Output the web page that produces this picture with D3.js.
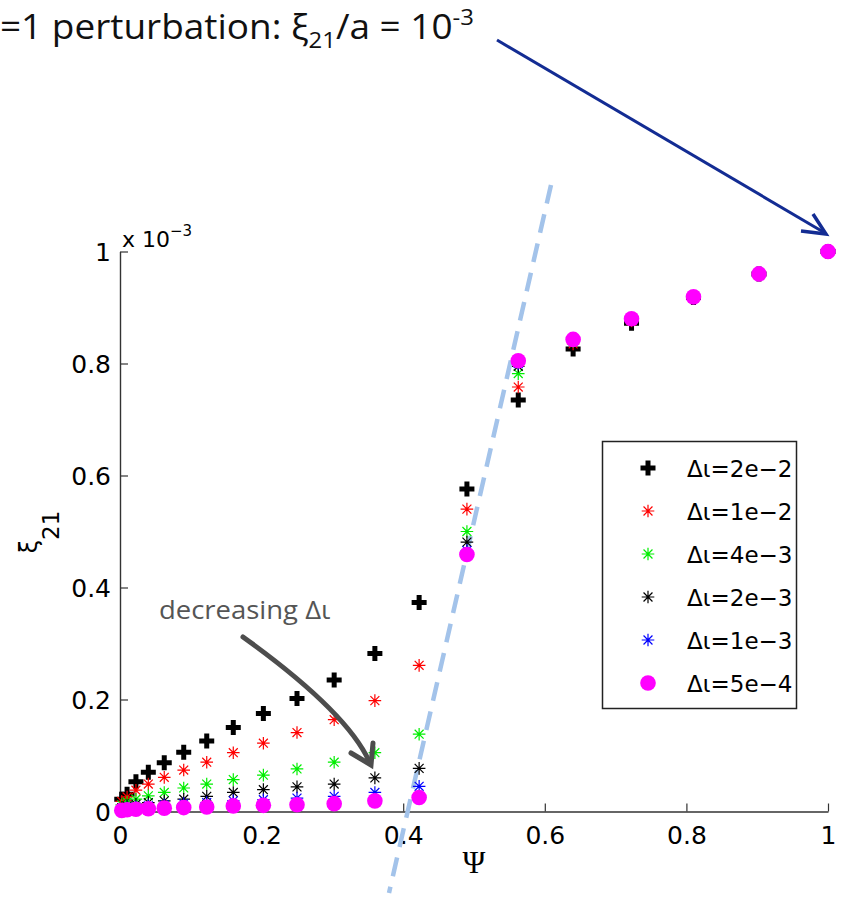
<!DOCTYPE html>
<html><head><meta charset="utf-8">
<script src="https://cdn.jsdelivr.net/npm/d3@7/dist/d3.min.js"></script>
<style>html,body{margin:0;padding:0;background:#fff;}svg{display:block;}</style>
</head><body>
<svg id="chart" width="844" height="900"></svg>
<script>
// ---- data ----
const psi = [0.0025, 0.01, 0.0225, 0.04, 0.0625, 0.09, 0.1225, 0.16, 0.2025, 0.25, 0.3025, 0.36, 0.4225, 0.49, 0.5625, 0.64, 0.7225, 0.81, 0.9025, 1.0];
const xi_2e2 = [0.022, 0.031, 0.053, 0.070, 0.087, 0.106, 0.126, 0.150, 0.175, 0.202, 0.235, 0.282, 0.373, 0.576, 0.735, 0.826, 0.872, 0.918, 0.960, 1.000];
const xi_1e2 = [0.018, 0.026, 0.038, 0.049, 0.061, 0.074, 0.088, 0.105, 0.122, 0.141, 0.164, 0.198, 0.261, 0.540, 0.758, 0.835, 0.876, 0.918, 0.960, 1.000];
const xi_4e3 = [0.012, 0.017, 0.022, 0.028, 0.034, 0.042, 0.049, 0.057, 0.065, 0.076, 0.088, 0.105, 0.138, 0.500, 0.782, 0.840, 0.878, 0.918, 0.960, 1.000];
const xi_2e3 = [0.007, 0.010, 0.013, 0.016, 0.019, 0.022, 0.027, 0.034, 0.039, 0.044, 0.049, 0.060, 0.077, 0.481, 0.795, 0.842, 0.879, 0.918, 0.960, 1.000];
const xi_1e3 = [0.004, 0.006, 0.008, 0.010, 0.012, 0.014, 0.016, 0.019, 0.021, 0.024, 0.027, 0.034, 0.045, 0.466, 0.800, 0.843, 0.879, 0.918, 0.960, 1.000];
const xi_5e4 = [0.002, 0.003, 0.004, 0.005, 0.006, 0.007, 0.008, 0.010, 0.011, 0.012, 0.014, 0.019, 0.025, 0.459, 0.805, 0.843, 0.880, 0.919, 0.960, 1.000];
const seriesLabels = ["Δι=2e−2", "Δι=1e−2", "Δι=4e−3", "Δι=2e−3", "Δι=1e−3", "Δι=5e−4"];
const xTicks = [0, 0.2, 0.4, 0.6, 0.8, 1];
const yTicks = [0, 0.2, 0.4, 0.6, 0.8, 1];

// ---- styles ----
const series = [
  {vals: xi_2e2, marker: "plus", color: "#000000"},
  {vals: xi_1e2, marker: "star", color: "#ff0000"},
  {vals: xi_4e3, marker: "star", color: "#00ee00"},
  {vals: xi_2e3, marker: "star", color: "#000000"},
  {vals: xi_1e3, marker: "star", color: "#0000ff"},
  {vals: xi_5e4, marker: "dot",  color: "#ff00ff"}
];

const svg = d3.select("#chart");
const x = d3.scaleLinear().domain([0, 1]).range([120, 828]);
const y = d3.scaleLinear().domain([0, 1]).range([811.5, 251.5]);

// plus path
function plusPath(s, t) {
  const a = s / 2, b = t / 2;
  return `M${-b},${-a}H${b}V${-b}H${a}V${b}H${b}V${a}H${-b}V${b}H${-a}V${-b}H${-b}Z`;
}
function starPath(r) {
  const d = r * 0.7071;
  return `M${-r},0H${r}M0,${-r}V${r}M${-d},${-d}L${d},${d}M${-d},${d}L${d},${-d}`;
}
function drawMarker(g, m, color) {
  if (m === "plus") g.append("path").attr("d", plusPath(15, 5)).attr("fill", color);
  else if (m === "star") g.append("path").attr("d", starPath(6.3)).attr("fill", "none").attr("stroke", color).attr("stroke-width", 1.2);
  else g.append("circle").attr("r", 7.8).attr("fill", color);
}

// ---- axes ----
const axisStyle = sel => {
  sel.selectAll("path.domain").attr("stroke", "#333").attr("stroke-width", 1.4);
  sel.selectAll(".tick line").attr("stroke", "#333").attr("stroke-width", 1.2);
  sel.selectAll(".tick text").attr("fill", "#000").attr("font-family", "DejaVu Sans").attr("font-size", 25);
};
const xAxis = svg.append("g").attr("transform", `translate(0,${y(0)})`)
  .call(d3.axisBottom(x).tickValues(xTicks).tickSizeInner(-8).tickSizeOuter(0).tickPadding(15).tickFormat(d => String(d)));
axisStyle(xAxis);
const yAxis = svg.append("g").attr("transform", `translate(${x(0)},0)`)
  .call(d3.axisLeft(y).tickValues(yTicks).tickSizeInner(-8).tickSizeOuter(0).tickPadding(9).tickFormat(d => String(d)));
axisStyle(yAxis);
yAxis.selectAll(".tick text").attr("dy", "0.36em");

// exponent label
const expT = svg.append("text").attr("x", 122).attr("y", 247).attr("font-family", "DejaVu Sans").attr("font-size", 22).attr("fill", "#000");
expT.append("tspan").text("x 10");
expT.append("tspan").attr("dy", -11).attr("font-size", 15).text("−3");

// axis titles
svg.append("text").attr("x", x(0.5)).attr("y", 873).attr("text-anchor", "middle")
  .attr("font-family", "Liberation Serif").attr("font-size", 31).attr("fill", "#000").text("Ψ");
const yl = svg.append("text").attr("transform", "translate(37,532) rotate(-90)").attr("text-anchor", "middle")
  .attr("font-family", "DejaVu Sans").attr("font-size", 24).attr("fill", "#000");
yl.append("tspan").text("ξ");
yl.append("tspan").attr("dy", 22).attr("font-size", 23).text("21");

// ---- dashed guide line ----
svg.append("line").attr("x1", 551).attr("y1", 185).attr("x2", 389).attr("y2", 893)
  .attr("stroke", "#a3c3ea").attr("stroke-width", 4.5).attr("stroke-dasharray", "19,11");

// ---- data marks ----
series.forEach(s => {
  const g = svg.append("g");
  psi.forEach((p, i) => {
    const v = s.vals[i];
    if (v == null) return;
    const mg = g.append("g").attr("transform", `translate(${x(p)},${y(v)})`);
    drawMarker(mg, s.marker, s.color);
  });
});

// ---- legend ----
const lg = svg.append("g");
lg.append("rect").attr("x", 602.5).attr("y", 441.5).attr("width", 194).attr("height", 267)
  .attr("fill", "#fff").attr("stroke", "#222").attr("stroke-width", 1.5);
series.forEach((s, i) => {
  const cy = 468 + i * 43;
  const mg = lg.append("g").attr("transform", `translate(648,${cy})`);
  drawMarker(mg, s.marker, s.color);
  lg.append("text").attr("x", 687).attr("y", cy + 8.5).attr("font-family", "DejaVu Sans")
    .attr("font-size", 23).attr("fill", "#000").text(seriesLabels[i]);
});

// ---- annotations ----
// title
const title = svg.append("text").attr("x", 0).attr("y", 39).attr("font-family", "Open Sans")
  .attr("font-size", 34).attr("fill", "#111");
title.append("tspan").text("=1 perturbation: ξ");
title.append("tspan").attr("dy", 9).attr("font-size", 22).text("21");
title.append("tspan").attr("dy", -9).text("/a = 10");
title.append("tspan").attr("dy", -14).attr("font-size", 22).text("-3");
function fitWidth(sel, x0, yBase, target) {
  const w = sel.node().getBBox().width;
  const k = target / w;
  sel.attr("transform", `translate(${x0},${yBase}) scale(${k},1) translate(${-x0},${-yBase})`);
}
fitWidth(title, 0, 39, 474);

// navy arrow
const navy = "#132c93";
svg.append("line").attr("x1", 497).attr("y1", 40).attr("x2", 825).attr("y2", 233)
  .attr("stroke", navy).attr("stroke-width", 3);
svg.append("path").attr("d", "M801,231 L826,234 L813,214").attr("fill", "none")
  .attr("stroke", navy).attr("stroke-width", 3.5).attr("stroke-linejoin", "miter");

// decreasing label
const dec = svg.append("text").attr("x", 159).attr("y", 619).attr("font-family", "Open Sans")
  .attr("font-size", 25).attr("fill", "#555").text("decreasing Δι");
fitWidth(dec, 159, 619, 172);

// gray curved arrow
const gray = "#4d4d4d";
svg.append("path").attr("d", "M243,637 Q346,711 369,761").attr("fill", "none")
  .attr("stroke", gray).attr("stroke-width", 5).attr("stroke-linecap", "round");
svg.append("path").attr("d", "M351,753 L371,765 L373,743").attr("fill", "none")
  .attr("stroke", gray).attr("stroke-width", 5).attr("stroke-linejoin", "miter").attr("stroke-linecap", "round");
</script>
</body></html>
